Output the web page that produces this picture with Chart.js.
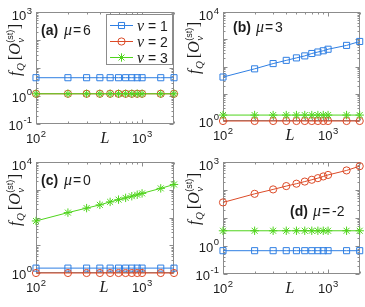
<!DOCTYPE html>
<html>
<head>
<meta charset="utf-8">
<script src="https://cdn.jsdelivr.net/npm/chart.js@4.4.1/dist/chart.umd.min.js"></script>
<style>
html,body{margin:0;padding:0;background:#fff;}
#wrap{position:relative;width:365px;height:307px;overflow:hidden;background:#fff;}
#wrap canvas{position:absolute;left:0;top:0;}
</style>
</head>
<body>
<div id="wrap">
<canvas id="pa" width="365" height="307"></canvas>
<canvas id="pb" width="365" height="307"></canvas>
<canvas id="pc" width="365" height="307"></canvas>
<canvas id="pd" width="365" height="307"></canvas>
</div>
<script>
// ---------------- data ----------------
const L = [100, 200, 300, 400, 500, 600, 700, 800, 900, 1000, 1500, 2000];
const seriesNames = ['ν = 1', 'ν = 2', 'ν = 3'];
const muValues = ['6', '3', '0', '-2'];
const panelTags = ['(a)', '(b)', '(c)', '(d)'];

// panel (a) mu = 6
const aNu1 = [4.5, 4.5, 4.5, 4.5, 4.5, 4.5, 4.5, 4.5, 4.5, 4.5, 4.5, 4.5];
const aNu2 = [1.2, 1.2, 1.2, 1.2, 1.2, 1.2, 1.2, 1.2, 1.2, 1.2, 1.2, 1.2];
const aNu3 = [1.2, 1.2, 1.2, 1.2, 1.2, 1.2, 1.2, 1.2, 1.2, 1.2, 1.2, 1.2];
// panel (b) mu = 3
const bNu1 = [41, 82, 128, 168, 207, 245, 300, 340, 378, 430, 595, 830];
const bNu2 = [1, 1, 1, 1, 1, 1, 1, 1, 1, 1, 1, 1];
const bNu3 = [1.65, 1.65, 1.65, 1.65, 1.65, 1.65, 1.65, 1.65, 1.65, 1.65, 1.65, 1.65];
// panel (c) mu = 0
const cNu1 = [1.5, 1.5, 1.5, 1.5, 1.5, 1.5, 1.5, 1.5, 1.5, 1.5, 1.5, 1.5];
const cNu2 = [1, 1, 1, 1, 1, 1, 1, 1, 1, 1, 1, 1];
const cNu3 = [75, 150, 218, 285, 365, 440, 510, 585, 660, 740, 1120, 1550];
// panel (d) mu = -2
const dNu1 = [0.68, 0.68, 0.68, 0.68, 0.68, 0.68, 0.68, 0.68, 0.68, 0.68, 0.68, 0.68];
const dNu2 = [36, 73, 105, 138, 168, 200, 232, 265, 305, 345, 500, 710];
const dNu3 = [3.5, 3.5, 3.5, 3.5, 3.5, 3.5, 3.5, 3.5, 3.5, 3.5, 3.5, 3.5];

// axis ranges and tick labels
const xRange = [100, 2000];
const xTickLabels = [100, 1000];
const yRangeA = [0.1, 1000], yTicksA = [0.1, 1, 1000];
const yRangeB = [1, 10000],  yTicksB = [1, 10000];
const yRangeC = [1, 10000],  yTicksC = [1, 10000];
const yRangeD = [0.1, 1000], yTicksD = [0.1, 1, 1000];

// ---------------- styles ----------------
const sans = '"Liberation Sans", Arial, Helvetica, sans-serif';
const serif = '"Liberation Serif", "Times New Roman", serif';
const ink = '#1c1c1c';
const boxColor = '#8c8c8c';
const colors = ['#2f7fe3', '#dc4b28', '#4fd41c'];
const pointStyles = ['rect', 'circle', 'star'];
const pointRadii = [4.3, 3.6, 4.2];

const panels = [
  {id:'pa', area:{l:36, t:12, r:174, b:124}, yr:yRangeA, yt:yTicksA, data:[aNu1,aNu2,aNu3],
   tagPos:{x:41, y:35}, yTitle:{x:20, cy:50}, xTitle:{cx:105}, legend:true},
  {id:'pb', area:{l:223, t:12, r:361, b:121}, yr:yRangeB, yt:yTicksB, data:[bNu1,bNu2,bNu3],
   tagPos:{x:233, y:32}, yTitle:{x:199, cy:48}, xTitle:{cx:290}, legend:false},
  {id:'pc', area:{l:36, t:162, r:174, b:273}, yr:yRangeC, yt:yTicksC, data:[cNu1,cNu2,cNu3],
   tagPos:{x:41, y:185}, yTitle:{x:20, cy:200}, xTitle:{cx:104}, legend:false},
  {id:'pd', area:{l:223, t:162, r:361, b:274}, yr:yRangeD, yt:yTicksD, data:[dNu1,dNu2,dNu3],
   tagPos:{x:290, y:216}, yTitle:{x:199, cy:199}, xTitle:{cx:290}, legend:false}
];

// ---------------- helpers ----------------
function runParts(ctx, parts, x, y, draw) {
  let cx = x;
  for (const p of parts) {
    if (p.gap !== undefined) { cx += p.gap; continue; }
    if (p.stack) {
      let w = 0;
      for (const s of p.stack) {
        ctx.font = s.font;
        if (draw) ctx.fillText(s.t, cx + (s.dx || 0), y + (s.dy || 0));
        w = Math.max(w, ctx.measureText(s.t).width + (s.dx || 0));
      }
      cx += w;
      continue;
    }
    ctx.font = p.font;
    if (draw) ctx.fillText(p.t, cx, y + (p.dy || 0));
    cx += ctx.measureText(p.t).width;
  }
  return cx - x;
}
function powParts(v) {
  const e = Math.round(Math.log10(v));
  return [{t:'10', font:`13px ${sans}`}, {gap:0.5}, {t:String(e), font:`9.5px ${sans}`, dy:-6.5}];
}
function drawMarker(ctx, style, r, x, y) {
  ctx.beginPath();
  if (style === 'rect') {
    const s = Math.SQRT1_2 * r;
    ctx.rect(x - s, y - s, 2 * s, 2 * s);
  } else if (style === 'circle') {
    ctx.arc(x, y, r, 0, Math.PI * 2);
  } else {
    for (let k = 0; k < 4; k++) {
      const a = k * Math.PI / 4;
      ctx.moveTo(x - Math.cos(a) * r, y - Math.sin(a) * r);
      ctx.lineTo(x + Math.cos(a) * r, y + Math.sin(a) * r);
    }
  }
  ctx.stroke();
}

function makePlugin(p, idx) {
  return {
    id: 'matlabAxes' + idx,
    beforeDatasetsDraw(chart) {
      const {ctx, chartArea: a, scales: {x, y}} = chart;
      ctx.save();
      ctx.strokeStyle = boxColor;
      ctx.lineWidth = 1;
      const L0 = Math.floor(a.left) + 0.5, R0 = Math.ceil(a.right) - 0.5;
      const T0 = Math.floor(a.top) + 0.5, B0 = Math.ceil(a.bottom) - 0.5;
      ctx.strokeRect(L0, T0, R0 - L0, B0 - T0);
      // inward x ticks (log minor/major)
      ctx.beginPath();
      for (let d = 100; d <= 1000; d *= 10) {
        for (let m = 1; m <= 9; m++) {
          const v = d * m;
          if (v < x.min - 1e-9 || v > x.max + 1e-9) continue;
          const px = Math.round(x.getPixelForValue(v)) + 0.5;
          const len = (m === 1) ? 4 : 2;
          ctx.moveTo(px, B0); ctx.lineTo(px, B0 - len);
          ctx.moveTo(px, T0); ctx.lineTo(px, T0 + len);
        }
      }
      // inward y ticks
      for (let d = 0.1; d <= 10000; d *= 10) {
        for (let m = 1; m <= 9; m++) {
          const v = d * m;
          if (v < y.min * 0.999 || v > y.max * 1.001) continue;
          const py = Math.round(y.getPixelForValue(v)) + 0.5;
          const len = (m === 1) ? 4 : 2;
          ctx.moveTo(L0, py); ctx.lineTo(L0 + len, py);
          ctx.moveTo(R0, py); ctx.lineTo(R0 - len, py);
        }
      }
      ctx.stroke();
      ctx.restore();
    },
    afterDraw(chart) {
      const {ctx, chartArea: a, scales: {x, y}} = chart;
      ctx.save();
      ctx.fillStyle = ink;
      ctx.textBaseline = 'alphabetic';
      // x tick labels
      for (const v of xTickLabels) {
        const parts = powParts(v);
        const w = runParts(ctx, parts, 0, 0, false);
        const px = x.getPixelForValue(v);
        runParts(ctx, parts, px - w / 2, a.bottom + 19, true);
      }
      // y tick labels
      for (const v of p.yt) {
        const parts = powParts(v);
        const w = runParts(ctx, parts, 0, 0, false);
        const py = y.getPixelForValue(v);
        let base = py + 5.5;
        if (Math.abs(py - a.top) < 1) base = py + 8;
        runParts(ctx, parts, a.left - 4 - w, base, true);
      }
      // x title
      ctx.font = `italic 16px ${serif}`;
      const lw = ctx.measureText('L').width;
      ctx.fillText('L', p.xTitle.cx - lw / 2, a.bottom + 18.5);
      // y title (rotated)
      const yParts = [
        {t:'f', font:`italic 16px ${serif}`},
        {gap:0.5},
        {t:'Q', font:`italic 11px ${serif}`, dy:3.5},
        {gap:3},
        {t:'[', font:`16px ${serif}`},
        {t:'O', font:`italic 16px ${serif}`},
        {gap:0.5},
        {stack:[{t:'(st)', font:`9px ${sans}`, dy:-7.5}, {t:'ν', font:`italic 11px ${serif}`, dy:4}]},
        {gap:0.5},
        {t:']', font:`16px ${serif}`}
      ];
      const tw = runParts(ctx, yParts, 0, 0, false);
      ctx.save();
      ctx.translate(p.yTitle.x, p.yTitle.cy);
      ctx.rotate(-Math.PI / 2);
      runParts(ctx, yParts, -tw / 2, 0, true);
      ctx.restore();
      // panel tag "(a) mu = 6"
      const tx = p.tagPos.x, ty = p.tagPos.y;
      ctx.font = `bold 14px ${sans}`;
      ctx.fillText(panelTags[idx], tx, ty);
      ctx.font = `italic 16px ${serif}`;
      ctx.fillText('μ', tx + 23, ty);
      ctx.font = `14px ${sans}`;
      ctx.fillText('=', tx + 32, ty);
      ctx.fillText(muValues[idx], tx + 42, ty);
      // legend
      if (p.legend) {
        const bx = 106.5, by = 14.5, bw = 66, bh = 50;
        ctx.fillStyle = '#ffffff';
        ctx.fillRect(bx, by, bw, bh);
        ctx.strokeStyle = boxColor;
        ctx.lineWidth = 1;
        ctx.strokeRect(bx, by, bw, bh);
        const rows = [25.5, 41.5, 57.5];
        for (let i = 0; i < 3; i++) {
          const ry = rows[i];
          ctx.strokeStyle = colors[i];
          ctx.lineWidth = 1;
          ctx.beginPath();
          ctx.moveTo(110, ry); ctx.lineTo(133, ry);
          ctx.stroke();
          drawMarker(ctx, pointStyles[i], pointRadii[i], 121.5, ry);
          ctx.fillStyle = ink;
          const name = seriesNames[i].split(' = ');
          ctx.font = `italic 16px ${serif}`;
          ctx.fillText(name[0], 137, ry + 5);
          ctx.font = `14px ${sans}`;
          ctx.fillText('=', 148, ry + 5);
          ctx.fillText(name[1], 160, ry + 5);
        }
      }
      ctx.restore();
    }
  };
}

panels.forEach((p, idx) => {
  const datasets = p.data.map((vals, i) => ({
    label: seriesNames[i],
    data: L.map((lv, j) => ({x: lv, y: vals[j]})),
    borderColor: colors[i],
    backgroundColor: 'rgba(0,0,0,0)',
    borderWidth: 1,
    pointStyle: pointStyles[i],
    pointRadius: pointRadii[i],
    pointBorderWidth: 1,
    pointBorderColor: colors[i],
    pointBackgroundColor: 'rgba(0,0,0,0)',
    fill: false,
    tension: 0,
    clip: false,
    order: 2 - i
  }));
  new Chart(document.getElementById(p.id), {
    type: 'line',
    data: {datasets},
    options: {
      responsive: false,
      animation: false,
      devicePixelRatio: 1,
      events: [],
      layout: {padding: {left: p.area.l, top: p.area.t, right: 365 - p.area.r, bottom: 307 - p.area.b}},
      plugins: {legend: {display: false}, tooltip: {enabled: false}, title: {display: false}},
      scales: {
        x: {type: 'logarithmic', min: xRange[0], max: xRange[1], display: false},
        y: {type: 'logarithmic', min: p.yr[0], max: p.yr[1], display: false}
      }
    },
    plugins: [makePlugin(p, idx)]
  });
});
</script>
</body>
</html>
